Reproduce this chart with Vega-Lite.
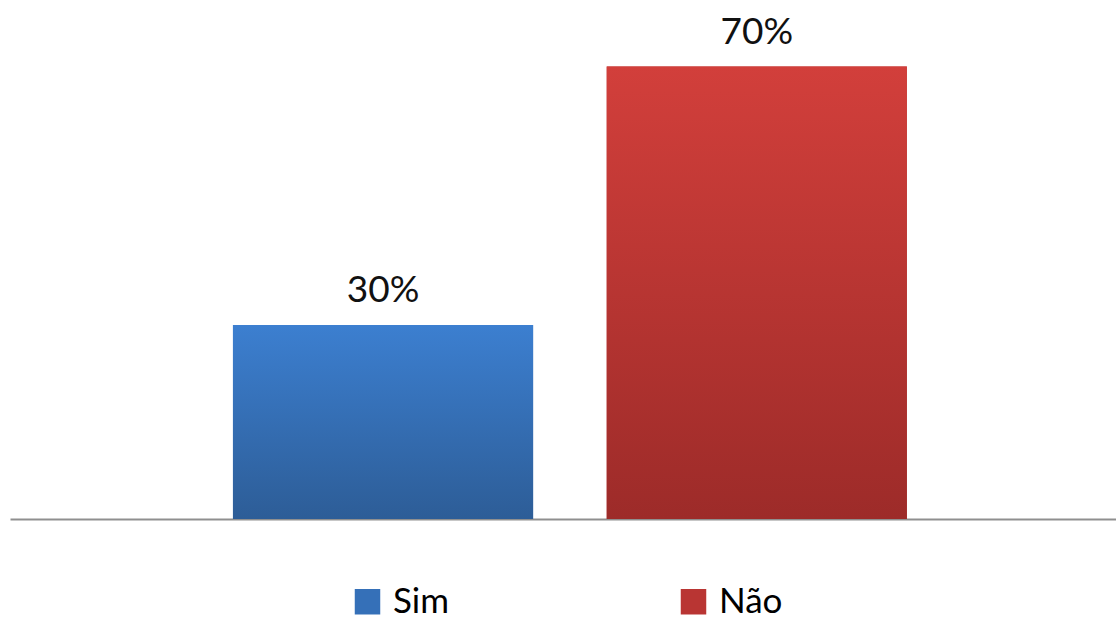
{
  "$schema": "https://vega.github.io/schema/vega-lite/v6.json",
  "width": 1106,
  "height": 519,
  "autosize": {"type": "none"},
  "padding": {"left": 10, "top": 0, "right": 0, "bottom": 99},
  "background": "white",
  "config": {"view": {"stroke": null}, "font": "Lato"},
  "data": {"values": [
    {"resposta": "Sim", "pct": 0.30},
    {"resposta": "Não", "pct": 0.70}
  ]},
  "encoding": {
    "x": {"field": "resposta", "type": "nominal", "sort": ["Sim", "Não"],
      "scale": {"paddingInner": 0.197, "paddingOuter": 0.578, "align": 0.516},
      "axis": {"title": null, "labels": false, "ticks": false, "domainColor": "#8f8f8f", "domainWidth": 2}},
    "y": {"field": "pct", "type": "quantitative", "scale": {"domain": [0, 0.803]}, "axis": null}
  },
  "layer": [
    {
      "mark": {"type": "bar"},
      "encoding": {
        "color": {"field": "resposta", "type": "nominal", "sort": ["Sim", "Não"],
          "scale": {"domain": ["Sim", "Não"], "range": ["#3570B8", "#B93533"]},
          "legend": {"title": null, "orient": "none", "legendX": 340, "legendY": 584, "direction": "horizontal", "symbolType": "square", "symbolSize": 650, "symbolStrokeWidth": 0, "labelFontSize": 35, "labelColor": "#000", "labelFont": "Lato", "labelOffset": 8, "columnPadding": 226, "symbolOpacity": 1}
        }
      }
    },
    {
      "transform": [{"filter": "datum.resposta === 'Sim'"}],
      "mark": {"type": "bar", "color": {"gradient": "linear", "x1": 0, "y1": 0, "x2": 0, "y2": 1, "stops": [{"offset": 0, "color": "#3C7FD0"}, {"offset": 1, "color": "#2D5D97"}]}}
    },
    {
      "transform": [{"filter": "datum.resposta === 'Não'"}],
      "mark": {"type": "bar", "color": {"gradient": "linear", "x1": 0, "y1": 0, "x2": 0, "y2": 1, "stops": [{"offset": 0, "color": "#D23F3B"}, {"offset": 1, "color": "#9D2B29"}]}}
    },
    {
      "mark": {"type": "text", "baseline": "alphabetic", "dy": -23, "fontSize": 37, "color": "#111"},
      "encoding": {"text": {"field": "pct", "type": "quantitative", "format": ".0%"}}
    }
  ]
}
